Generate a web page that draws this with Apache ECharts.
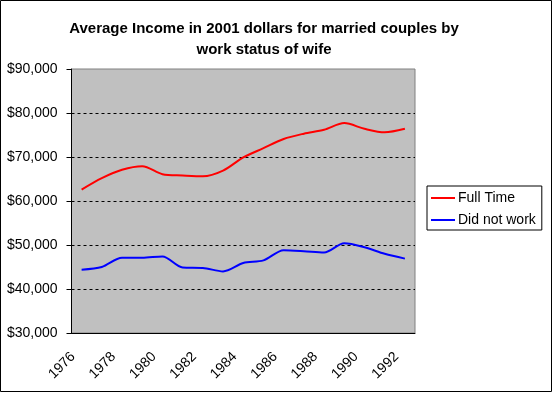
<!DOCTYPE html>
<html>
<head>
<meta charset="utf-8">
<script src="https://cdn.jsdelivr.net/npm/echarts@6/dist/echarts.min.js"></script>
<style>
html,body{margin:0;padding:0;background:#fff;}
#c{width:553px;height:393px;box-sizing:border-box;}
</style>
</head>
<body>
<div id="c"></div>
<script>
const years = ['1976','1977','1978','1979','1980','1981','1982','1983','1984','1985','1986','1987','1988','1989','1990','1991','1992'];
const fullTime = [62600,65200,67100,67900,66100,65800,65600,66900,69900,72000,74100,75300,76200,77700,76400,75600,76400];
const didNotWork = [44400,45000,47100,47100,47400,44900,44800,44000,45900,46500,48800,48600,48300,50400,49500,48000,46900];
const titleText = 'Average Income in 2001 dollars for married couples by\nwork status of wife';

const FONT = '"Liberation Sans", Arial, sans-serif';
const chart = echarts.init(document.getElementById('c'), null, {renderer:'canvas'});
chart.setOption({
  animation:false,
  backgroundColor:'#fff',
  textStyle:{fontFamily:FONT},
  graphic:[{type:'rect',shape:{x:0.5,y:0.5,width:551,height:391},style:{fill:'none',stroke:'#000',lineWidth:1},z:-1,silent:true}],
  title:{
    text:titleText,
    left:259, top:13, textAlign:'center',
    textStyle:{fontFamily:FONT,fontSize:15,fontWeight:'bold',color:'#000',lineHeight:21}
  },
  legend:{
    orient:'vertical', left:427, top:186,
    padding:[5,6,3,4],
    borderColor:'#000', borderWidth:1,
    itemWidth:24, itemHeight:2, itemGap:8,
    icon:'rect',
    textStyle:{fontFamily:FONT,fontSize:14,color:'#000',padding:[0,0,0,-2]},
    data:['Full Time','Did not work']
  },
  grid:{
    left:71.5, top:69, right:138, bottom:60,
    show:true, backgroundColor:'#C0C0C0', borderColor:'#808080', borderWidth:1
  },
  xAxis:{
    type:'category', data:years, boundaryGap:true,
    axisLine:{lineStyle:{color:'#000',width:1}},
    axisTick:{interval:0,length:5,lineStyle:{color:'#000'}},
    axisLabel:{interval:1,rotate:45,fontFamily:FONT,fontSize:14,color:'#000',margin:13,padding:[0,12,0,0]}
  },
  yAxis:{
    type:'value', min:30000, max:90000, interval:10000,
    axisLine:{show:true,lineStyle:{color:'#000',width:1}},
    axisTick:{show:true,length:5,lineStyle:{color:'#000'}},
    axisLabel:{fontFamily:FONT,fontSize:14,color:'#000',margin:14,
      formatter:v=>'$'+v.toLocaleString('en-US')},
    splitLine:{show:true,lineStyle:{type:[3,3],width:1,
      color:['rgba(0,0,0,0)','#000','#000','#000','#000','#000','rgba(0,0,0,0)']}}
  },
  series:[
    {name:'Full Time',type:'line',data:fullTime,smooth:0.3,showSymbol:false,
     lineStyle:{color:'#FF0000',width:2},itemStyle:{color:'#FF0000'}},
    {name:'Did not work',type:'line',data:didNotWork,smooth:0.3,showSymbol:false,
     lineStyle:{color:'#0000FF',width:2},itemStyle:{color:'#0000FF'}}
  ]
});
</script>
</body>
</html>
